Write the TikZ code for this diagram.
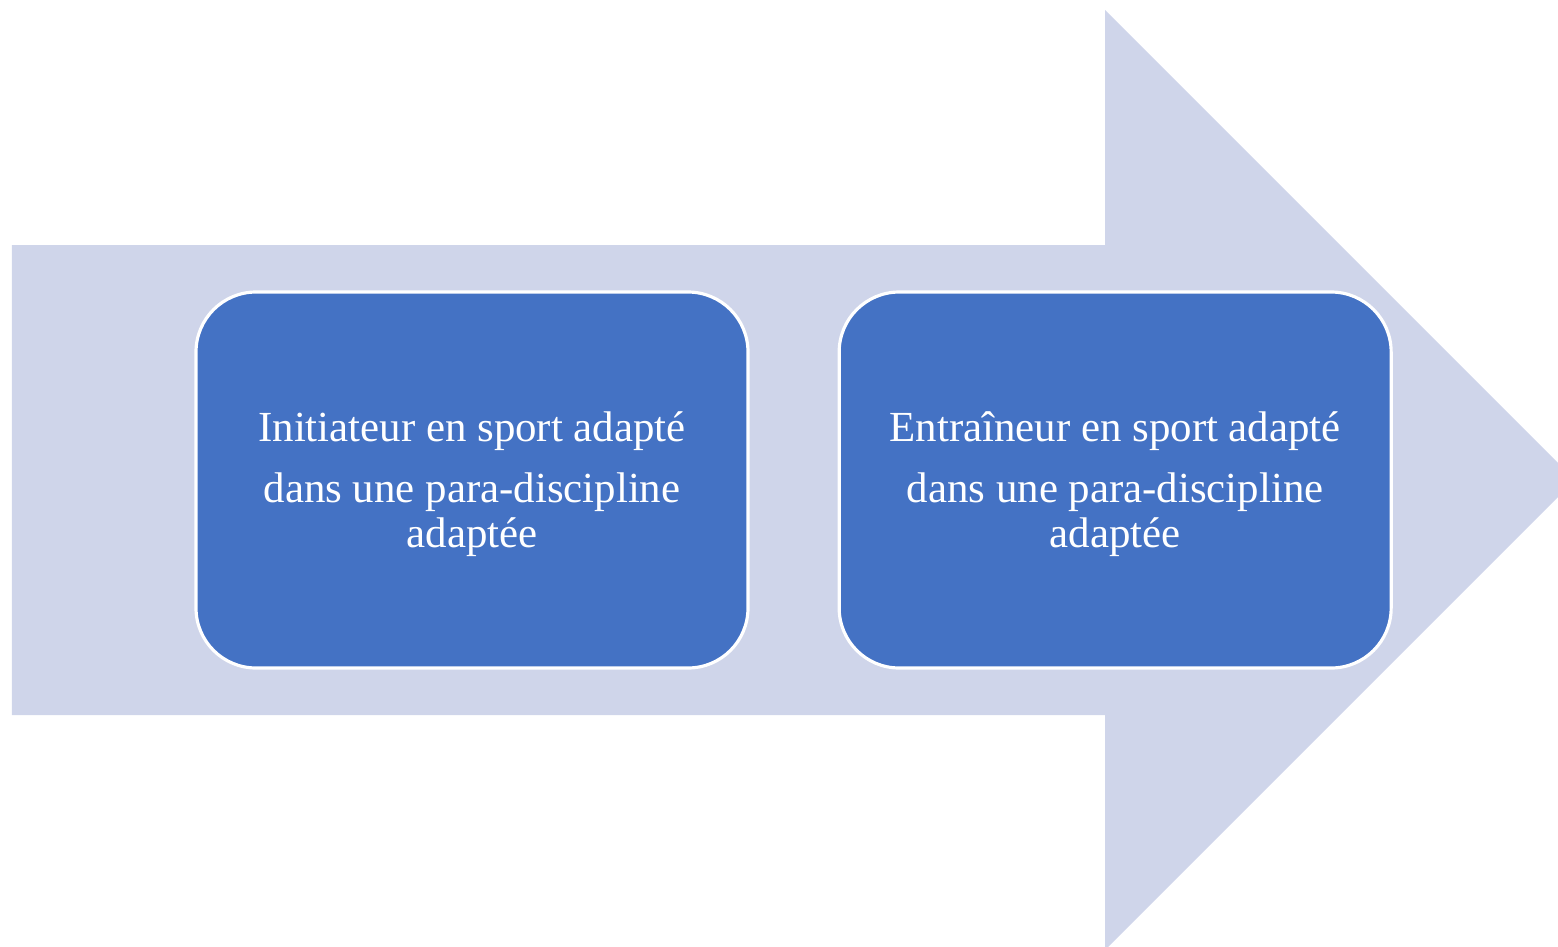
\documentclass[tikz,border=0pt]{standalone}
\usepackage{fontspec}
\setmainfont{Liberation Serif}
\usetikzlibrary{positioning}
\definecolor{arrowfill}{HTML}{CFD5EA}
\definecolor{boxfill}{HTML}{4472C4}
\begin{document}
\begin{tikzpicture}[
        stagebox/.style={rectangle, rounded corners=0.6cm, draw=white, line width=0.9pt,
            fill=boxfill, text=white, minimum width=5.52cm, minimum height=3.76cm,
            align=center, font=\fontsize{12.2}{12.9}\selectfont}
    ]
        \useasboundingbox (0, 0) rectangle (15.58, -9.46);
        % big background arrow
        \fill[arrowfill] (0.12, -2.45) -- (11.05, -2.45) -- (11.05, -0.10) -- (15.75, -4.80)
            -- (11.05, -9.50) -- (11.05, -7.15) -- (0.12, -7.15) -- cycle;
        \node[stagebox] (initiateur) at (4.72, -4.80) {\rule{0pt}{11pt}Initiateur en sport adapté\\[4.3pt]dans une para-discipline\\adaptée};
        \node[stagebox, right=0.88cm of initiateur] (entraineur) {\rule{0pt}{11pt}Entraîneur en sport adapté\\[4.3pt]dans une para-discipline\\adaptée};
    \end{tikzpicture}
\end{document}
